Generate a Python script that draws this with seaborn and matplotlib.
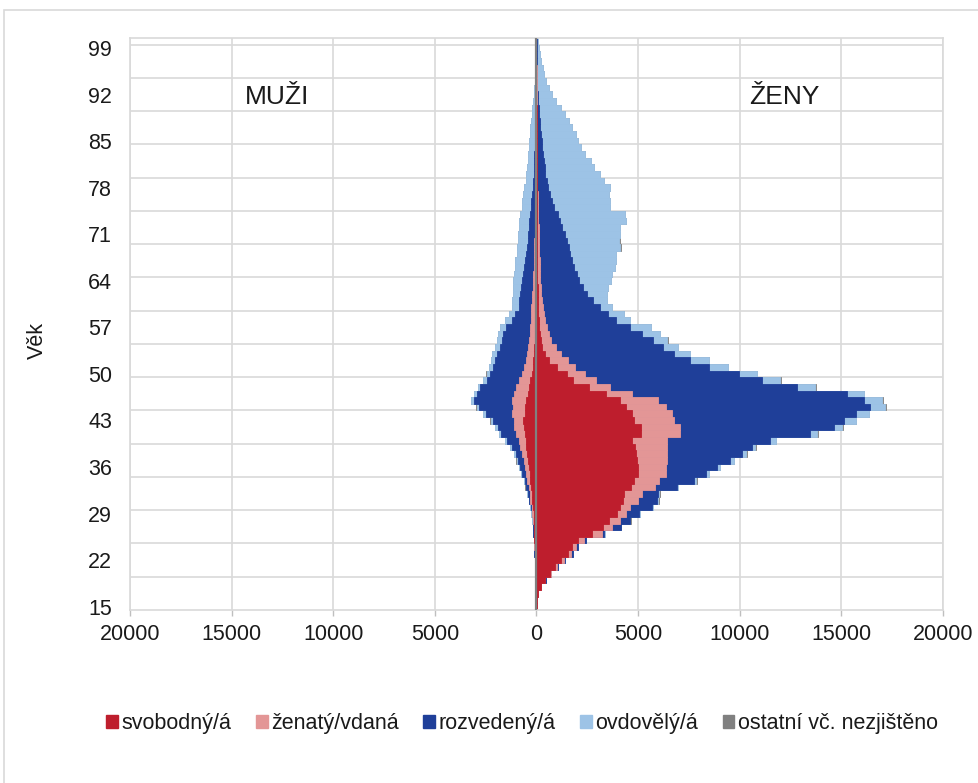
import numpy as np
import pandas as pd
import matplotlib
matplotlib.use("Agg")
import matplotlib.pyplot as plt
from matplotlib.patches import Patch, Rectangle
import seaborn as sns

# Age categories 15 .. 100
ages = list(range(15, 101))
age_ticks = list(range(15, 100, 7))

categories = ['svobodný/á', 'ženatý/vdaná', 'rozvedený/á', 'ovdovělý/á', 'ostatní vč. nezjištěno']
colors = ['#BE1E2D', '#E39696', '#1F3F99', '#9DC3E6', '#808080']

# ---- MUŽI (values per age 15..100) ----
men_svobodny = [0, 5, 10, 20, 35, 45, 55, 65, 80, 90,
                100, 110, 120, 130, 145, 170, 200, 230, 270, 300,
                340, 380, 420, 460, 500, 540, 580, 620, 640, 590,
                560, 500, 430, 380, 300, 220, 180, 150, 130, 110,
                90, 80, 70, 60, 55, 50, 40, 35, 30, 25,
                20, 18, 15, 12, 10, 8, 6, 5, 4, 3,
                2, 2, 1, 1, 1, 0, 0, 0, 0, 0,
                0, 0, 0, 0, 0, 0, 0, 0, 0, 0,
                0, 0, 0, 0, 0, 0]
men_zenaty = [0, 0, 0, 0, 0, 5, 10, 15, 15, 20,
              20, 25, 25, 35, 55, 60, 100, 110, 120, 160,
              180, 210, 200, 240, 290, 330, 450, 495, 475, 610,
              590, 700, 685, 650, 550, 480, 440, 390, 350, 310,
              290, 260, 240, 230, 215, 210, 190, 175, 160, 140,
              130, 122, 115, 108, 100, 92, 84, 75, 66, 57,
              48, 38, 29, 24, 19, 15, 12, 10, 8, 6,
              5, 4, 3, 2, 2, 1, 1, 0, 0, 0,
              0, 0, 0, 0, 0, 0]
men_rozvedeny = [0, 0, 0, 0, 0, 0, 0, 0, 5, 5,
                 10, 15, 15, 15, 30, 50, 60, 100, 120, 130,
                 200, 230, 300, 330, 410, 570, 740, 785, 1015, 1290,
                 1670, 1880, 1835, 1730, 1600, 1600, 1530, 1490, 1470, 1380,
                 1320, 1310, 1190, 910, 780, 620, 620, 590, 570, 535,
                 500, 460, 430, 400, 370, 340, 320, 300, 280, 260,
                 230, 210, 190, 165, 140, 125, 108, 100, 92, 84,
                 75, 66, 57, 53, 48, 39, 29, 25, 20, 15,
                 10, 10, 5, 5, 5, 0]
men_ovdovely = [0, 0, 0, 0, 0, 0, 0, 0, 0, 0,
                0, 0, 5, 20, 20, 20, 20, 20, 30, 30,
                30, 50, 60, 85, 80, 90, 80, 120, 130, 130,
                130, 130, 130, 130, 170, 160, 200, 200, 230, 220,
                240, 250, 300, 330, 310, 320, 350, 350, 390, 450,
                460, 470, 510, 460, 500, 480, 510, 490, 520, 500,
                440, 440, 430, 410, 370, 360, 340, 320, 310, 300,
                290, 260, 240, 215, 190, 170, 140, 115, 90, 65,
                50, 40, 35, 25, 15, 10]
men_ostatni = [0, 0, 0, 0, 0, 0, 0, 0, 0, 0,
               0, 0, 0, 0, 0, 5, 5, 5, 5, 5,
               5, 10, 10, 10, 10, 10, 10, 10, 10, 10,
               10, 10, 10, 5, 5, 5, 5, 5, 5, 5,
               5, 5, 5, 0, 0, 0, 0, 0, 0, 0,
               0, 0, 0, 0, 0, 0, 0, 0, 0, 0,
               0, 0, 0, 0, 0, 0, 0, 0, 0, 0,
               0, 0, 0, 0, 0, 0, 0, 0, 0, 0,
               0, 0, 0, 0, 0, 0]

# ---- ŽENY (values per age 15..100) ----
women_svobodna = [10, 30, 80, 200, 400, 640, 900, 1230, 1560, 1760,
                  2030, 2740, 3280, 3560, 3970, 4130, 4250, 4300, 4650, 4800,
                  5000, 5000, 4950, 4900, 4850, 4710, 5120, 5120, 4790, 4700,
                  4400, 4100, 3400, 2600, 1800, 1500, 1000, 600, 400, 280,
                  220, 170, 130, 100, 80, 70, 60, 55, 50, 45,
                  40, 35, 30, 28, 25, 22, 20, 18, 16, 15,
                  14, 12, 10, 9, 8, 7, 6, 5, 4, 3,
                  3, 2, 2, 1, 1, 1, 0, 0, 0, 0,
                  0, 0, 0, 0, 0, 0]
women_vdana = [0, 0, 10, 30, 40, 60, 100, 100, 160, 190,
               290, 460, 420, 540, 430, 470, 750, 900, 1200, 1220,
               1350, 1350, 1450, 1500, 1580, 1720, 1930, 1930, 1970, 1970,
               1950, 1900, 1300, 1000, 1150, 900, 900, 950, 800, 670,
               500, 430, 370, 320, 270, 230, 200, 175, 160, 145,
               135, 125, 120, 112, 105, 98, 90, 82, 74, 65,
               56, 48, 40, 36, 32, 28, 24, 20, 16, 12,
               9, 8, 6, 5, 4, 3, 3, 2, 2, 1,
               1, 1, 0, 0, 0, 0]
women_rozvedena = [0, 0, 5, 10, 20, 20, 40, 50, 60, 100,
                   130, 130, 450, 500, 650, 1100, 950, 800, 1050, 1750,
                   2010, 2510, 3140, 3720, 4180, 5080, 6430, 7580, 8360, 9030,
                   10080, 10100, 10580, 9220, 8150, 7550, 6600, 6010, 5570, 5270,
                   5020, 4600, 4090, 3480, 3150, 2800, 2540, 2270, 2090, 1910,
                   1825, 1690, 1600, 1510, 1460, 1380, 1290, 1160, 1060, 1000,
                   780, 710, 600, 545, 460, 405, 370, 335, 300, 275,
                   238, 210, 182, 154, 135, 106, 77, 58, 43, 34,
                   24, 17, 12, 8, 5, 3]
women_ovdovela = [0, 0, 0, 0, 0, 0, 0, 10, 10, 10,
                  10, 20, 20, 20, 30, 50, 50, 50, 60, 100,
                  120, 160, 170, 210, 160, 250, 330, 410, 580, 650,
                  740, 920, 820, 890, 890, 890, 900, 930, 790, 750,
                  700, 880, 1040, 700, 800, 600, 650, 950, 1200, 1550,
                  1700, 2000, 2150, 2250, 2540, 2580, 2730, 2840, 3230, 3250,
                  2790, 2840, 2940, 3050, 2810, 2660, 2450, 2300, 2090, 1920,
                  1780, 1700, 1560, 1430, 1250, 1120, 855, 710, 555, 455,
                  365, 292, 218, 152, 110, 62]
women_ostatni = [0, 0, 0, 0, 0, 0, 0, 0, 0, 0,
                 0, 0, 0, 5, 5, 5, 10, 10, 10, 10,
                 10, 15, 15, 15, 20, 20, 20, 25, 25, 25,
                 25, 25, 20, 20, 20, 15, 15, 15, 10, 10,
                 10, 10, 10, 5, 5, 5, 5, 5, 5, 5,
                 5, 5, 5, 5, 5, 5, 0, 0, 0, 0,
                 0, 0, 0, 0, 0, 0, 0, 0, 0, 0,
                 0, 0, 0, 0, 0, 0, 0, 0, 0, 0,
                 0, 0, 0, 0, 0, 0]

men = [men_svobodny, men_zenaty, men_rozvedeny, men_ovdovely, men_ostatni]
women = [women_svobodna, women_vdana, women_rozvedena, women_ovdovela, women_ostatni]

# cumulative stacks (men to the left)
men_cum = np.cumsum(np.array(men), axis=0)
women_cum = np.cumsum(np.array(women), axis=0)
rows = []
for k in range(len(categories)):
    for i, age in enumerate(ages):
        rows.append({'age': age, 'layer': k, 'pohlavi': 'M', 'value': -men_cum[k, i]})
        rows.append({'age': age, 'layer': k, 'pohlavi': 'Z', 'value': women_cum[k, i]})
df = pd.DataFrame(rows)

sns.set_theme(style='white')
plt.rcParams['font.family'] = ['Liberation Sans', 'DejaVu Sans']

fig = plt.figure(figsize=(9.79, 7.83), dpi=100)
ax = fig.add_axes([130 / 979, 1 - 610 / 783, 813 / 979, 572 / 783])

# draw outermost layer first, inner layers on top
for k in reversed(range(len(categories))):
    sub = df[df['layer'] == k]
    sns.barplot(data=sub, x='value', y='age', hue='pohlavi',
                palette={'M': colors[k], 'Z': colors[k]},
                orient='h', native_scale=True, dodge=False, width=1,
                errorbar=None, saturation=1, legend=False,
                linewidth=0.6, edgecolor=colors[k], ax=ax)

grid_col = '#d9d9d9'
ax.set_xlim(-20000, 20000)
ax.set_ylim(14.5, 100.5)
xt = list(range(-20000, 20001, 5000))
ax.set_xticks(xt)
ax.set_xticklabels([str(abs(v)) for v in xt])
ax.set_yticks(age_ticks)
ax.set_yticklabels([str(a) for a in age_ticks])
ax.set_yticks(np.arange(19.5, 100, 5), minor=True)
ax.grid(False)
ax.grid(axis='x', which='major', color=grid_col, lw=1.2)
ax.grid(axis='y', which='minor', color=grid_col, lw=1.2)
ax.set_axisbelow(True)
for s in ax.spines.values():
    s.set_visible(True)
    s.set_color(grid_col)
    s.set_linewidth(1.2)

ax.tick_params(axis='y', which='both', length=0, pad=13, labelsize=15.5, labelcolor='#1a1a1a')
ax.tick_params(axis='x', which='major', length=4, color='#bfbfbf', width=1, pad=6,
               labelsize=15.5, labelcolor='#1a1a1a', bottom=True)

ax.axvline(0, color='#808080', lw=1.6, zorder=5)

ax.set_xlabel('')
ax.set_ylabel('Věk', fontsize=15.5, color='#1a1a1a')
ax.yaxis.set_label_coords(-0.101, 0.472)

ax.text(-14370, 91.6, 'MUŽI', fontsize=19, va='center', ha='left', color='#1a1a1a')
ax.text(10480, 91.6, 'ŽENY', fontsize=19, va='center', ha='left', color='#1a1a1a')

handles = [Patch(facecolor=c, edgecolor=c) for c in colors]
fig.legend(handles, categories, loc='center', bbox_to_anchor=(0.533, 0.076), ncol=5,
           frameon=False, fontsize=15.5, handlelength=0.55, handleheight=0.6,
           handletextpad=0.15, columnspacing=1.15, labelcolor='#1a1a1a')

# chart area border
fig.patches.append(Rectangle((4 / 979, -0.1), 1.1, 1.1 - 10 / 783, transform=fig.transFigure,
                             fill=False, edgecolor=grid_col, lw=1.2))

fig.savefig('out.png', dpi=100)
